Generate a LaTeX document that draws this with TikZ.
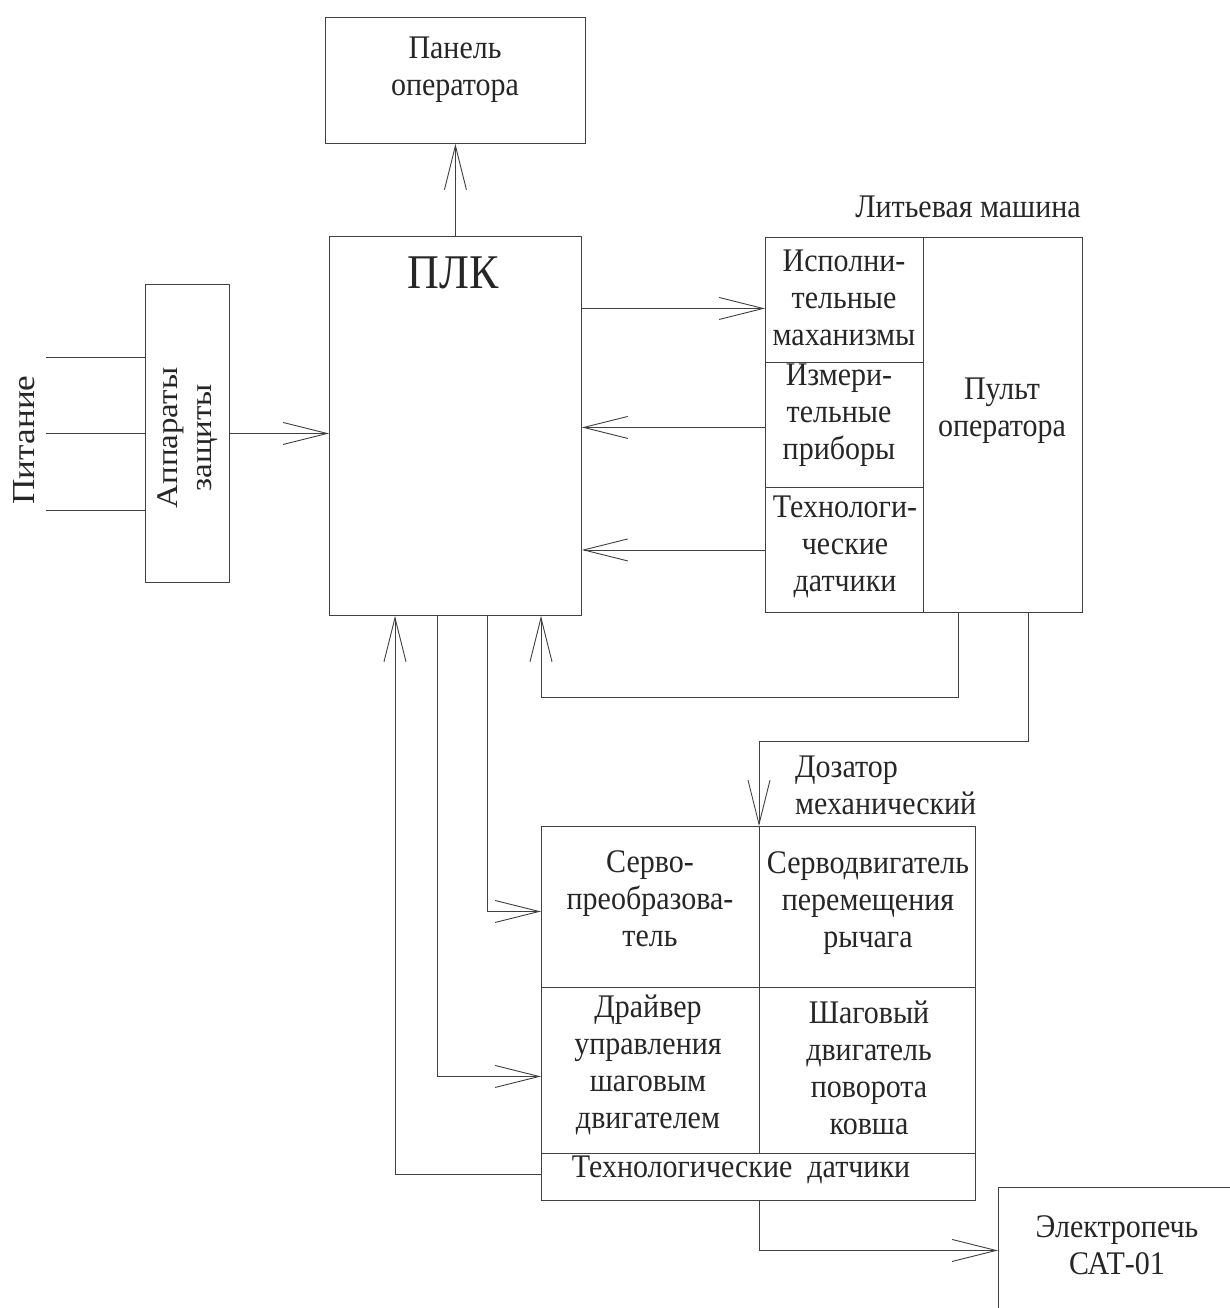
\documentclass[tikz,border=0pt]{standalone}
\usepackage{fontspec}
\setmainfont{Liberation Serif}
\usetikzlibrary{arrows.meta}
\newcommand{\fsz}{\fontsize{30}{33.6}\selectfont}
\tikzset{
  ln/.style={line width=0.9pt, draw=black!75},
  arr/.style={ln, -{Straight Barb[length=44pt,width=22pt,line width=0.9pt]}},
  cell/.style={ln, draw, anchor=north west, inner sep=0pt},
  txt/.style={yscale=1.1, transform shape, inner sep=0pt, align=center, font=\fsz, text=black!85},
}
\begin{document}
\begin{tikzpicture}[x=1pt,y=1pt]
\useasboundingbox (0,0) rectangle (1230,-1308);
\clip (0,0) rectangle (1230,-1308);
% top panel
\node[cell, minimum width=260, minimum height=126] (panel) at (325,-17) {};
\node[txt] (paneltxt) at (455,-70) {Панель\\оператора};
% PLC
\node[cell, minimum width=252, minimum height=379] (plc) at (329,-236) {};
\node[txt, font=\fontsize{44}{50}\selectfont] (plctxt) at (453,-273) {ПЛК};
% protection
\node[cell, minimum width=84, minimum height=298] (apz) at (145,-284) {};
\node[txt, rotate=90] (apztxt) at (188,-438) {Аппараты\\защиты};
\node[txt, rotate=90, font=\fontsize{32}{37}\selectfont] (pit) at (24,-440) {Питание};
\coordinate (p1) at (46,-357);
\coordinate (p2) at (46,-433);
\coordinate (p3) at (46,-510);
% casting machine
\node[txt] (lmtxt) at (968,-207) {Литьевая машина};
\node[cell, minimum width=158, minimum height=125] (ism) at (765,-237) {};
\node[cell, minimum width=158, minimum height=125] (izm) at (765,-362) {};
\node[cell, minimum width=158, minimum height=125] (td) at (765,-487) {};
\node[cell, minimum width=159, minimum height=375] (pult) at (923,-237) {};
\node[txt] (ismtxt) at (844,-298) {Исполни-\\тельные\\маханизмы};
\node[txt] (izmtxt) at (839,-415) {Измери-\\тельные\\приборы};
\node[txt] (tdtxt) at (845,-547) {Технологи-\\ческие\\датчики};
\node[txt] (pulttxt) at (1002,-411) {Пульт\\оператора};
% dozator
\node[txt, align=left, anchor=west] (dztxt) at (795,-785) {Дозатор\\механический};
\node[cell, minimum width=218, minimum height=161] (servo) at (541,-826) {};
\node[cell, minimum width=216, minimum height=161] (sdv) at (759,-826) {};
\node[cell, minimum width=218, minimum height=166] (drv) at (541,-987) {};
\node[cell, minimum width=216, minimum height=166] (shd) at (759,-987) {};
\node[cell, minimum width=434, minimum height=47] (tdat) at (541,-1153) {};
\node[txt] (servotxt) at (650,-899) {Серво-\\преобразова-\\тель};
\node[txt] (sdvtxt) at (868,-903) {Серводвигатель\\перемещения\\рычага};
\node[txt] (drvtxt) at (648,-1065) {Драйвер\\управления\\шаговым\\двигателем};
\node[txt] (shdtxt) at (869,-1068) {Шаговый\\двигатель\\поворота\\ковша};
\node[txt] (tdattxt) at (741,-1170) {Технологические\ \ датчики};
% furnace
\node[cell, minimum width=242, minimum height=126] (ep) at (998,-1187) {};
\node[txt] (eptxt) at (1117,-1245) {Электропечь\\САТ-01};
% connectors
\draw[arr] (plc.north) -- (panel.south);
\draw[ln] (p1) -- (p1 -| apz.west);
\draw[ln] (p2) -- (p2 -| apz.west);
\draw[ln] (p3) -- (p3 -| apz.west);
\draw[arr] (apz.east) -- (apz.east -| plc.west);
\coordinate (a1) at ([yshift=-8.5pt]ism.west);
\draw[arr] (a1 -| plc.east) -- (a1);
\coordinate (a2) at ([yshift=-2.5pt]izm.west);
\draw[arr] (a2) -- (a2 -| plc.east);
\draw[arr] (td.west) -- (td.west -| plc.east);
\coordinate (c1) at (541,-697);
\draw[arr] ([xshift=35pt]pult.south west) |- (c1) -- (c1 |- plc.south);
\coordinate (c2) at (759,-741);
\draw[arr] ([xshift=105pt]pult.south west) |- (c2) -- (sdv.north west);
\draw[arr] ([yshift=3pt]tdat.west) -| ([xshift=66pt]plc.south west);
\draw[arr] ([xshift=108pt]plc.south west) |- ([yshift=-6pt]drv.west);
\draw[arr] ([xshift=158pt]plc.south west) |- ([yshift=-4.5pt]servo.west);
\draw[arr] (tdat.south -| sdv.south west) |- (ep.west);
\end{tikzpicture}
\end{document}
